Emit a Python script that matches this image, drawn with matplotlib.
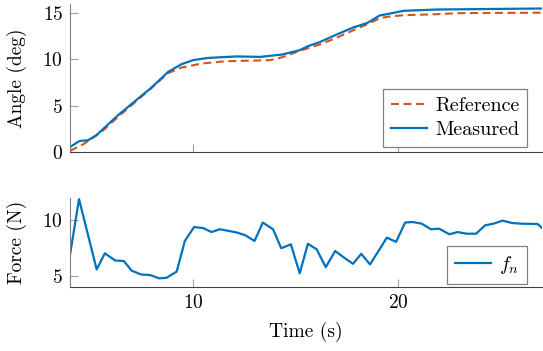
import matplotlib
matplotlib.use('Agg')
import matplotlib.pyplot as plt

plt.rcParams['font.family'] = 'serif'
plt.rcParams['font.serif'] = ['cmr10']
plt.rcParams['mathtext.fontset'] = 'cm'
plt.rcParams['axes.formatter.use_mathtext'] = True
plt.rcParams['font.size'] = 14

# angle tracking
t_ref = [4.0, 4.7, 5.53, 6.34, 7.97, 8.78, 9.43, 10.4, 11.55, 13.75, 14.3, 15.2,
         16.2, 17.0, 17.8, 18.5, 19.1, 19.45, 20.26, 21.9, 23.0, 27.0]
ang_ref = [0.15, 0.93, 2.18, 3.8, 6.9, 8.5, 9.1, 9.53, 9.78, 9.9, 10.18, 10.9,
           11.6, 12.3, 13.1, 13.76, 14.4, 14.55, 14.73, 14.84, 14.95, 15.0]

t_meas = [4.0, 4.47, 4.88, 5.28, 6.34, 7.97, 8.78, 9.43, 10.0, 10.73, 11.7, 12.1,
          13.27, 14.33, 15.2, 15.6, 16.2, 17.0, 17.8, 18.5, 19.1, 19.45, 20.26,
          21.9, 27.0]
ang_meas = [0.57, 1.22, 1.29, 1.83, 3.98, 6.95, 8.63, 9.46, 9.9, 10.14, 10.25, 10.3,
            10.25, 10.5, 10.97, 11.4, 11.86, 12.65, 13.4, 13.9, 14.7, 14.84, 15.2,
            15.34, 15.45]

# normal force
t_force = [4.0, 4.44, 5.3, 5.7, 6.2, 6.63, 7.0, 7.46, 7.9, 8.35, 8.7, 9.2, 9.6,
           10.05, 10.5, 10.9, 11.3, 11.75, 12.15, 12.55, 13.0, 13.4, 13.9, 14.3,
           14.77, 15.2, 15.6, 16.03, 16.47, 16.93, 17.37, 17.8, 18.2, 18.63,
           19.45, 19.9, 20.34, 20.7, 21.15, 21.6, 22.0, 22.5, 22.9, 23.35, 23.8,
           24.24, 24.65, 25.1, 25.55, 26.0, 26.8, 27.0]
f_n = [6.9, 11.9, 5.6, 7.05, 6.4, 6.35, 5.5, 5.15, 5.1, 4.8, 4.85, 5.4, 8.15,
       9.4, 9.3, 8.95, 9.2, 9.05, 8.9, 8.66, 8.15, 9.8, 9.2, 7.5,
       7.85, 5.25, 7.9, 7.4, 5.8, 7.25, 6.65, 6.1, 7.0, 6.05,
       8.45, 8.07, 9.8, 9.85, 9.7, 9.2, 9.25, 8.75, 8.95, 8.8, 8.8,
       9.55, 9.7, 9.97, 9.76, 9.7, 9.67, 9.35]

blue = '#0072BD'
orange = '#D95319'

fig = plt.figure(figsize=(5.43, 3.51), dpi=100)
W, H = 543, 351
ax1 = fig.add_axes([70 / W, 1 - 152.3 / H, 471.7 / W, 148 / H])
ax2 = fig.add_axes([70 / W, 1 - 287.3 / H, 471.7 / W, 89.3 / H])

ax1.plot(t_ref, ang_ref, color=orange, lw=1.5, ls=(0, (3.8, 2.2)), label='Reference')
ax1.plot(t_meas, ang_meas, color=blue, lw=1.6, label='Measured')
ax1.set_xlim(4, 27)
ax1.set_ylim(0, 15.9)
ax1.set_yticks([0, 5, 10, 15])
ax1.set_xticks([10, 20])
ax1.set_xticklabels([])
ax1.set_ylabel('Angle (deg)')

ax2.plot(t_force, f_n, color=blue, lw=1.6, label='$f_n$')
ax2.set_xlim(4, 27)
ax2.set_ylim(4, 12)
ax2.set_yticks([5, 10])
ax2.set_xticks([10, 20])
ax2.set_ylabel('Force (N)')
ax2.set_xlabel('Time (s)', labelpad=7)

for ax in (ax1, ax2):
    ax.spines['top'].set_visible(False)
    ax.spines['right'].set_visible(False)
    ax.spines['left'].set_color('#808080')
    ax.spines['bottom'].set_color('#404040')
    ax.tick_params(direction='in', length=5.8, width=0.8, color='#a0a0a0',
                   labelsize=14, pad=5)
    ax.yaxis.set_label_coords(-0.092, 0.5)
    ax.patch.set_visible(False)

leg1 = ax1.legend(loc='lower right', bbox_to_anchor=(0.9695, 0.034), fancybox=False,
                  edgecolor='#808080', framealpha=1, borderpad=0.4, borderaxespad=0,
                  handlelength=1.8, handletextpad=0.4, labelspacing=0.3,
                  fontsize=14.5)
leg1.get_frame().set_linewidth(0.9)
leg2 = ax2.legend(loc='lower right', bbox_to_anchor=(0.9695, 0.034), fancybox=False,
                  edgecolor='#808080', framealpha=1, borderpad=0.4, borderaxespad=0,
                  handlelength=1.8, handletextpad=0.4, fontsize=14.5)
leg2.get_frame().set_linewidth(0.9)

fig.savefig('out.png', dpi=100)
